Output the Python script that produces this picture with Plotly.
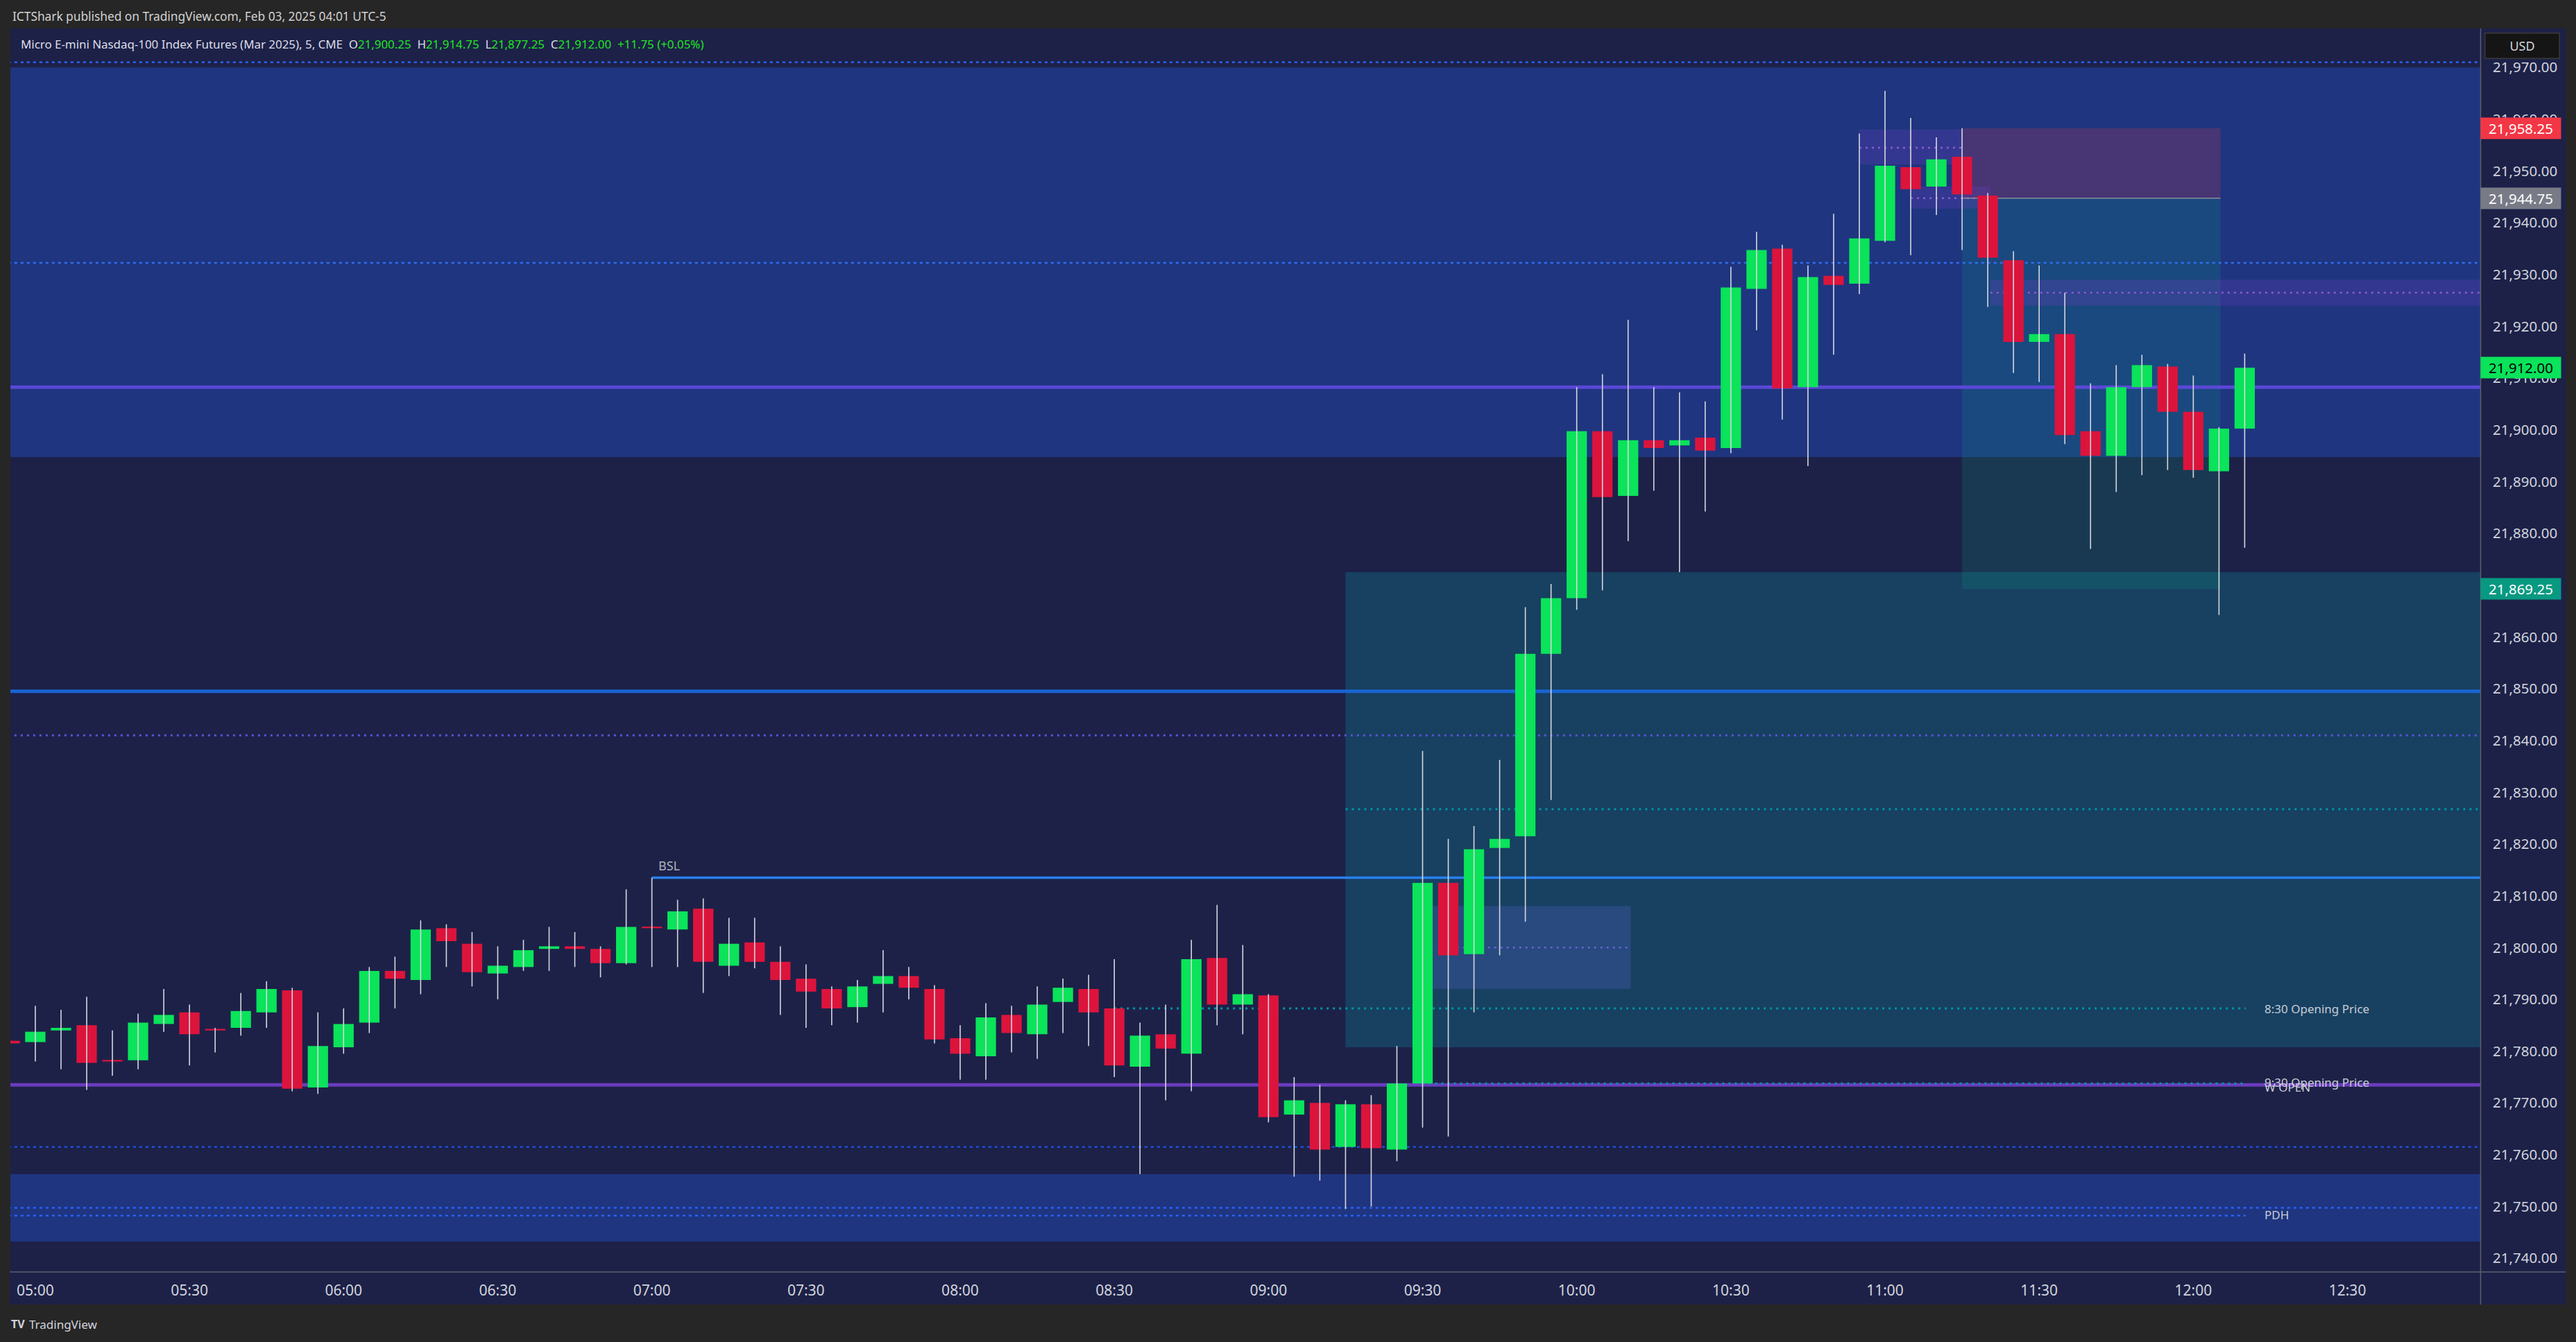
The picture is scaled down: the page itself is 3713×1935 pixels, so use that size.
import plotly.graph_objects as go
import pandas as pd

# ---------------- data ----------------
SESSION_DAY = "2025-01-31"
FIRST_BAR = "04:55"

OPEN = [21782.0, 21781.75, 21784.0, 21785.0, 21778.25, 21778.25, 21785.25, 21787.5, 21784.25, 21784.5,
        21787.5, 21791.75, 21773.0, 21780.75, 21785.5, 21795.5, 21793.75, 21803.75, 21800.75, 21795.0,
        21796.25, 21799.75, 21800.25, 21799.75, 21797.0, 21804.0, 21803.5, 21807.5, 21796.5, 21801.0,
        21797.25, 21794.0, 21792.0, 21788.5, 21793.0, 21794.5, 21792.0, 21782.5, 21779.0, 21787.0,
        21783.25, 21789.5, 21792.0, 21788.25, 21777.0, 21783.25, 21779.5, 21798.0, 21789.0, 21790.75,
        21767.75, 21770.0, 21761.5, 21769.75, 21761.0, 21773.75, 21812.5, 21798.75, 21819.25, 21821.5,
        21856.75, 21867.5, 21899.75, 21887.25, 21898.0, 21897.0, 21898.5, 21896.5, 21927.25, 21935.0,
        21908.25, 21929.75, 21928.25, 21936.5, 21950.75, 21947.0, 21952.75, 21945.25, 21932.75, 21917.0,
        21918.5, 21899.75, 21895.0, 21908.25, 21912.25, 21903.5, 21892.0, 21900.25]
HIGH = [21783.0, 21788.75, 21788.0, 21790.5, 21784.0, 21787.25, 21792.0, 21789.0, 21784.5, 21791.25,
        21793.5, 21792.25, 21787.5, 21788.25, 21796.25, 21798.25, 21805.25, 21804.5, 21803.0, 21800.25,
        21801.5, 21804.0, 21803.0, 21800.25, 21811.25, 21813.5, 21809.25, 21809.5, 21805.75, 21805.75,
        21800.25, 21796.75, 21792.5, 21793.75, 21799.5, 21796.25, 21792.75, 21785.0, 21789.25, 21788.75,
        21792.5, 21794.0, 21794.75, 21797.75, 21785.5, 21789.0, 21801.5, 21808.25, 21800.5, 21791.0,
        21775.0, 21773.5, 21770.5, 21771.5, 21781.0, 21838.0, 21821.0, 21823.5, 21836.25, 21865.75,
        21870.25, 21908.25, 21910.75, 21921.25, 21908.25, 21907.25, 21905.5, 21931.5, 21938.25, 21935.75,
        21931.75, 21941.75, 21957.25, 21965.5, 21960.25, 21956.5, 21958.25, 21945.75, 21934.5, 21931.75,
        21926.5, 21909.0, 21912.5, 21914.5, 21912.75, 21910.5, 21900.5, 21914.75]
LOW = [21780.5, 21778.0, 21776.5, 21772.5, 21775.25, 21776.5, 21783.75, 21777.25, 21779.75, 21783.0,
       21784.5, 21772.25, 21771.75, 21779.5, 21783.5, 21788.25, 21791.0, 21796.25, 21792.5, 21790.0,
       21795.5, 21795.5, 21796.25, 21794.25, 21796.75, 21796.25, 21796.25, 21791.25, 21794.5, 21796.0,
       21787.0, 21784.5, 21785.0, 21785.5, 21787.5, 21790.0, 21781.5, 21774.5, 21774.5, 21779.75,
       21778.5, 21783.5, 21781.0, 21775.0, 21756.25, 21770.5, 21772.25, 21785.0, 21783.25, 21766.25,
       21755.75, 21755.0, 21749.5, 21750.0, 21758.75, 21765.25, 21763.5, 21787.5, 21798.5, 21805.0,
       21828.5, 21865.25, 21869.0, 21878.5, 21888.25, 21872.5, 21884.25, 21895.5, 21919.25, 21902.0,
       21893.0, 21914.5, 21926.25, 21936.25, 21933.75, 21941.5, 21934.75, 21923.75, 21911.0, 21909.25,
       21897.25, 21877.0, 21888.0, 21891.25, 21892.25, 21890.75, 21864.25, 21877.25]
CLOSE = [21781.5, 21783.75, 21784.5, 21777.75, 21778.0, 21785.5, 21787.0, 21783.25, 21784.0, 21787.75,
         21792.0, 21772.75, 21781.0, 21785.25, 21795.5, 21794.0, 21803.5, 21801.25, 21795.25, 21796.5,
         21799.5, 21800.25, 21799.75, 21797.0, 21804.0, 21803.75, 21807.0, 21797.25, 21800.75, 21797.25,
         21793.75, 21791.5, 21788.25, 21792.5, 21794.5, 21792.25, 21782.25, 21779.5, 21786.5, 21783.5,
         21789.0, 21792.25, 21787.5, 21777.25, 21783.0, 21780.5, 21797.75, 21789.0, 21791.0, 21767.25,
         21770.5, 21761.0, 21769.75, 21761.25, 21773.75, 21812.5, 21798.5, 21819.0, 21821.0, 21856.75,
         21867.5, 21899.75, 21887.0, 21898.0, 21896.5, 21898.0, 21896.0, 21927.5, 21934.75, 21908.0,
         21929.5, 21928.0, 21937.0, 21951.0, 21946.5, 21952.25, 21945.5, 21933.25, 21917.0, 21918.5,
         21899.0, 21895.0, 21908.25, 21912.5, 21903.5, 21892.25, 21900.25, 21912.0]

TIME_TICKS = ["05:00", "05:30", "06:00", "06:30", "07:00", "07:30", "08:00", "08:30",
              "09:00", "09:30", "10:00", "10:30", "11:00", "11:30", "12:00", "12:30"]
PRICE_TICKS = [21740, 21750, 21760, 21770, 21780, 21790, 21800, 21810, 21820, 21830, 21840, 21850,
               21860, 21870, 21880, 21890, 21900, 21910, 21920, 21930, 21940, 21950, 21960, 21970]

# key levels (price)
TOP_DOT = 21971.0
MID_DOT = 21932.25
PURPLE_LINE = 21908.25
BLUE_LINE = 21849.5
PURPLE_DOT = 21841.0
TEAL_MID = 21826.75
BSL = 21813.5
OPEN_830 = 21788.25
OPEN_930 = 21773.75
W_OPEN = 21773.5
LOW_DOT = 21761.5
PDH_A = 21749.75
PDH = 21748.25
ZONE_TOP = (21894.75, 21970.0)
ZONE_BOT = (21743.25, 21756.25)
TEAL_BOX = (21780.75, 21872.5)
SMALL_BOX = (21792.0, 21808.0)
SMALL_MID = 21800.0
P_BOX1 = (21951.25, 21958.0, 21954.5)
P_BOX2 = (21942.75, 21947.0, 21944.75)
P_BOX3 = (21924.0, 21929.0, 21926.5)
POS_STOP, POS_ENTRY, POS_TARGET = 21958.25, 21944.75, 21869.25

# ---------------- geometry ----------------
W, H = 3713, 1935
PL, PR, PT, PB = 15, 3575, 41, 1834
PW, PH = PR - PL, PB - PT
NAVY = "#1d2148"
T5 = pd.Timestamp(f"{SESSION_DAY} 05:00")


def x_at(bars):
    return (T5 + pd.Timedelta(minutes=5 * bars)).strftime("%Y-%m-%d %H:%M:%S.%f")[:-3]


def xt(hhmm, extra=0.0):
    t = pd.Timestamp(f"{SESSION_DAY} {hhmm}") + pd.Timedelta(minutes=5 * extra)
    return t.strftime("%Y-%m-%d %H:%M:%S.%f")[:-3]


def ppx(xpix):
    return (xpix - PL) / PW


def ppy(ypix):
    return 1 - (ypix - PT) / PH


X_LEFT, X_RIGHT = x_at(-0.9695), x_at(95.17)
X_FAR_L, X_FAR_R = x_at(-3), x_at(98)

times = pd.date_range(f"{SESSION_DAY} {FIRST_BAR}", periods=len(OPEN), freq="5min")

# ---------------- traces ----------------
wx, wy = [], []
for t, h, l in zip(times, HIGH, LOW):
    wx += [t, t, None]
    wy += [h, l, None]

up_x, up_b, up_h, dn_x, dn_b, dn_h = [], [], [], [], [], []
for t, o, c in zip(times, OPEN, CLOSE):
    base = min(o, c)
    hgt = max(abs(c - o), 0.3)
    if c >= o:
        up_x.append(t); up_b.append(base); up_h.append(hgt)
    else:
        dn_x.append(t); dn_b.append(base); dn_h.append(hgt)

BAR_MS = 0.79 * 5 * 60 * 1000
fig = go.Figure()
fig.add_trace(go.Scatter(x=wx, y=wy, mode="lines", line=dict(color="#d6d8de", width=1.6),
                         hoverinfo="skip"))
fig.add_trace(go.Bar(x=up_x, y=up_h, base=up_b, width=BAR_MS, marker=dict(color="#0ae35a", line=dict(width=0))))
fig.add_trace(go.Bar(x=dn_x, y=dn_h, base=dn_b, width=BAR_MS, marker=dict(color="#dc143c", line=dict(width=0))))

# ---------------- shapes ----------------
shapes = []


def rect(x0, x1, y0, y1, color):
    shapes.append(dict(type="rect", xref="x", yref="y", x0=x0, x1=x1, y0=y0, y1=y1,
                       fillcolor=color, line=dict(width=0), layer="below"))


def hline(y, x0, x1, color, width, dash="solid"):
    shapes.append(dict(type="line", xref="x", yref="y", x0=x0, x1=x1, y0=y, y1=y,
                       line=dict(color=color, width=width, dash=dash), layer="below"))


DOT = "4px,5px"
TDOT = "3px,6px"

rect(X_FAR_L, X_FAR_R, ZONE_TOP[0], ZONE_TOP[1], "#1f3580")
rect(X_FAR_L, X_FAR_R, ZONE_BOT[0], ZONE_BOT[1], "#1f3580")
rect(xt("09:15"), X_FAR_R, TEAL_BOX[0], TEAL_BOX[1], "rgba(8,160,170,0.25)")
rect(xt("09:30", 0.4), xt("10:10", 0.1), SMALL_BOX[0], SMALL_BOX[1], "rgba(80,100,200,0.3)")
rect(xt("11:15"), xt("12:05", 0.06), POS_ENTRY, POS_STOP, "rgba(242,54,69,0.2)")
rect(xt("11:15"), xt("12:05", 0.06), POS_TARGET, POS_ENTRY, "rgba(8,153,129,0.2)")
rect(xt("10:55"), xt("11:15"), P_BOX1[0], P_BOX1[1], "rgba(103,58,183,0.3)")
rect(xt("11:05"), xt("11:20", 0.1), P_BOX2[0], P_BOX2[1], "rgba(103,58,183,0.3)")
rect(xt("11:20", 0.1), X_FAR_R, P_BOX3[0], P_BOX3[1], "rgba(103,58,183,0.3)")

hline(TOP_DOT, X_FAR_L, X_FAR_R, "#2962ff", 2.5, DOT)
hline(MID_DOT, X_FAR_L, X_FAR_R, "#2f6ff0", 2.5, DOT)
hline(PURPLE_LINE, X_FAR_L, X_FAR_R, "#5a48d6", 5)
hline(BLUE_LINE, X_FAR_L, X_FAR_R, "#1964d2", 5)
hline(PURPLE_DOT, X_FAR_L, X_FAR_R, "#5555d2", 3, TDOT)
hline(TEAL_MID, xt("09:15"), X_FAR_R, "#0096a0", 3, TDOT)
hline(BSL, xt("07:00"), X_FAR_R, "#2980f0", 3.5)
hline(W_OPEN, X_FAR_L, X_FAR_R, "#6a3cbe", 5)
hline(OPEN_830, xt("08:30"), xt("12:10", 0.04), "#0096a0", 3, TDOT)
hline(OPEN_930, xt("09:30"), xt("12:10", 0.04), "#0096a0", 3, TDOT)
hline(LOW_DOT, X_FAR_L, X_FAR_R, "#1e50dc", 2.5, DOT)
hline(PDH_A, X_FAR_L, X_FAR_R, "#2962ff", 2.5, DOT)
hline(PDH, X_FAR_L, xt("12:10", 0.04), "#2962ff", 2.5, DOT)
hline(SMALL_MID, xt("09:30", 0.6), xt("10:10"), "#6464d2", 2.5, TDOT)
hline(P_BOX1[2], xt("10:55"), xt("11:15"), "#8a5cd0", 2.5, TDOT)
hline(P_BOX2[2], xt("11:05"), xt("11:20", 0.1), "#8a5cd0", 2.5, TDOT)
hline(P_BOX3[2], xt("11:20", 0.1), X_FAR_R, "#8a5cd0", 2.5, TDOT)
hline(POS_ENTRY, xt("11:15"), xt("12:05", 0.06), "#8a8d96", 1.5)

# panel strips outside plot area (price axis + time axis) and dividers
shapes.append(dict(type="rect", xref="paper", yref="paper", x0=ppx(PR), x1=ppx(3698), y0=ppy(1881), y1=ppy(PT),
                   fillcolor=NAVY, line=dict(width=0), layer="below"))
shapes.append(dict(type="rect", xref="paper", yref="paper", x0=ppx(14), x1=ppx(PR), y0=ppy(1881), y1=ppy(PB),
                   fillcolor=NAVY, line=dict(width=0), layer="below"))
shapes.append(dict(type="line", xref="paper", yref="paper", x0=ppx(PR + 0.5), x1=ppx(PR + 0.5), y0=ppy(1881), y1=ppy(PT),
                   line=dict(color="#5d606b", width=1.5), layer="above"))
shapes.append(dict(type="line", xref="paper", yref="paper", x0=ppx(14), x1=ppx(3698), y0=ppy(PB), y1=ppy(PB),
                   line=dict(color="#5d606b", width=1.5), layer="above"))

# ---------------- annotations ----------------
FONT = "Noto Sans"
ann = []
LBL = dict(family=FONT, size=17, color="#c8ccd6")
ann.append(dict(x=x_at(24.2), y=21815.9, xref="x", yref="y", text="BSL", showarrow=False,
                xanchor="left", yanchor="middle", font=dict(family=FONT, size=18, color="#aeb0ba")))
for txt, yv in [("8:30 Opening Price", OPEN_830), ("9:30 Opening Price", 21774.0),
                ("W OPEN", 21773.1), ("PDH", 21748.4)]:
    ann.append(dict(x=x_at(86.71), y=yv, xref="x", yref="y", text=txt, showarrow=False,
                    xanchor="left", yanchor="middle", font=LBL))

# price badges on the axis
for val, bg, fc in [(POS_STOP, "#f23645", "#ffffff"), (POS_ENTRY, "#787b86", "#ffffff"),
                    (CLOSE[-1], "#0ae35a", "#000000"), (POS_TARGET, "#089981", "#ffffff")]:
    ann.append(dict(x=ppx(3633.5), y=val, xref="paper", yref="y", text=f"{val:,.2f}", showarrow=False,
                    xanchor="center", yanchor="middle", width=111, height=26, borderpad=2,
                    bgcolor=bg, font=dict(family=FONT, size=20.5, color=fc)))
ann.append(dict(x=ppx(3636), y=ppy(65.6), xref="paper", yref="paper", text="USD", showarrow=False,
                xanchor="center", yanchor="middle", width=104, height=33, borderpad=1,
                bgcolor="#151515", bordercolor="#3a3a3a", borderwidth=1.5,
                font=dict(family=FONT, size=18, color="#d1d4dc")))

# header + legend
ann.append(dict(x=ppx(15.5), y=ppy(23.3), xref="paper", yref="paper", showarrow=False, xanchor="left",
                yanchor="middle", text="ICTShark published on TradingView.com, Feb 03, 2025 04:01 UTC-5",
                font=dict(family=FONT, size=17.3, color="#d2d2d2")))
chg = CLOSE[-1] - CLOSE[-2]
pct = chg / CLOSE[-2] * 100
G = "#1ee61e"
legend_txt = ("Micro E-mini Nasdaq-100 Index Futures (Mar 2025), 5, CME&nbsp;&nbsp;"
              f"O<span style='color:{G}'>{OPEN[-1]:,.2f}</span>&nbsp;&nbsp;"
              f"H<span style='color:{G}'>{HIGH[-1]:,.2f}</span>&nbsp;&nbsp;"
              f"L<span style='color:{G}'>{LOW[-1]:,.2f}</span>&nbsp;&nbsp;"
              f"C<span style='color:{G}'>{CLOSE[-1]:,.2f}</span>&nbsp;&nbsp;"
              f"<span style='color:{G}'>{chg:+.2f} ({pct:+.2f}%)</span>")
ann.append(dict(x=ppx(27.6), y=ppy(63.5), xref="paper", yref="paper", showarrow=False, xanchor="left",
                yanchor="middle", text=legend_txt, font=dict(family=FONT, size=16.9, color="#dcdee6")))
ann.append(dict(x=ppx(40), y=ppy(1909), xref="paper", yref="paper", showarrow=False, xanchor="left",
                yanchor="middle", text="TradingView", font=dict(family=FONT, size=17, color="#d1d4dc")))
ann.append(dict(x=ppx(14), y=ppy(1909), xref="paper", yref="paper", showarrow=False, xanchor="left",
                yanchor="middle", text="<b>TV</b>", font=dict(family=FONT, size=16, color="#d1d4dc")))

fig.update_layout(
    width=W, height=H, margin=dict(l=PL, r=W - PR, t=PT, b=H - PB, pad=0),
    paper_bgcolor="#262626", plot_bgcolor=NAVY, showlegend=False, barmode="overlay",
    shapes=shapes, annotations=ann,
    xaxis=dict(type="date", range=[X_LEFT, X_RIGHT], tickvals=[xt(t) for t in TIME_TICKS], ticktext=TIME_TICKS,
               showgrid=False, zeroline=False, showline=False, ticks="outside", ticklen=8,
               tickcolor="rgba(0,0,0,0)", tickfont=dict(family=FONT, size=21, color="#d1d4dc"),
               rangeslider=dict(visible=False), fixedrange=True),
    yaxis=dict(side="right", range=[21737.35, 21977.54], tickvals=PRICE_TICKS,
               ticktext=[f"{v:,.2f}" for v in PRICE_TICKS], showgrid=False, zeroline=False, showline=False,
               ticks="outside", ticklen=13, tickcolor="rgba(0,0,0,0)",
               tickfont=dict(family=FONT, size=20.5, color="#d1d4dc"), fixedrange=True),
)

fig.write_html("out.html", config={"displayModeBar": False},
               post_script="document.body.style.margin='0px';document.body.style.overflow='hidden';")
